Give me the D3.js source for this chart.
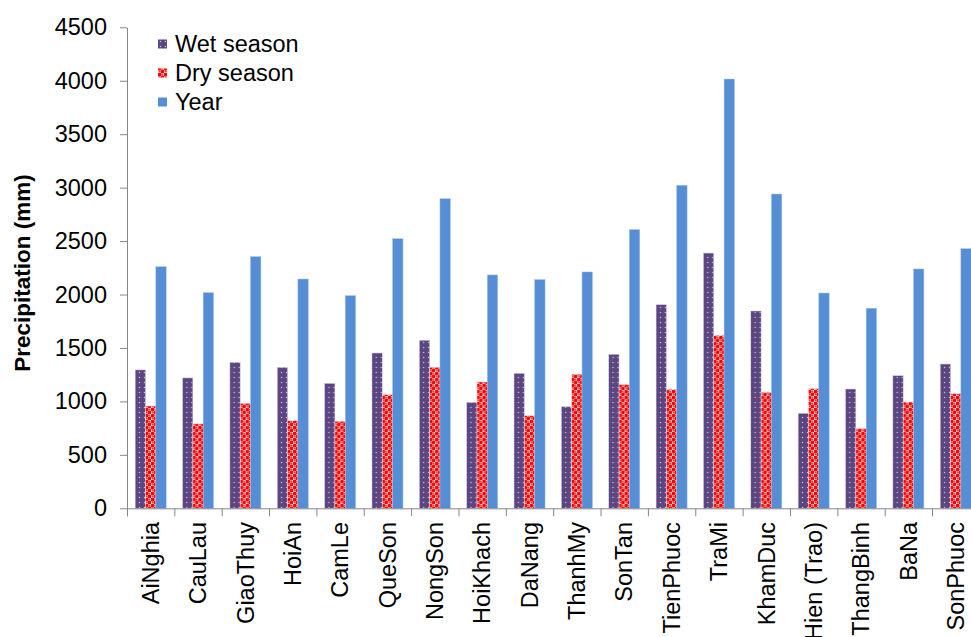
<!DOCTYPE html>
<html>
<head>
<meta charset="utf-8">
<script src="https://cdn.jsdelivr.net/npm/d3@7"></script>
<style>
  html, body { margin: 0; padding: 0; background: #fff; }
  svg { display: block; overflow: hidden; font-family: "Liberation Sans", Arial, sans-serif; }
</style>
</head>
<body>
<svg id="chart" width="971" height="637"></svg>
<script>
// Stations along the basin
const stations = ["AiNghia", "CauLau", "GiaoThuy", "HoiAn", "CamLe", "QueSon", "NongSon",
  "HoiKhach", "DaNang", "ThanhMy", "SonTan", "TienPhuoc", "TraMi", "KhamDuc",
  "Hien (Trao)", "ThangBinh", "BaNa", "SonPhuoc"];

// Mean precipitation (mm)
const wetSeason = [1295, 1220, 1366, 1319, 1169, 1453, 1572, 992, 1263, 951, 1441, 1905, 2388, 1846, 889, 1116, 1241, 1350];
const drySeason = [957, 790, 982, 819, 814, 1063, 1319, 1182, 866, 1254, 1157, 1113, 1618, 1085, 1119, 745, 994, 1072];
const yearTotal = [2260, 2017, 2354, 2145, 1989, 2522, 2896, 2183, 2139, 2211, 2607, 3022, 4016, 2940, 2014, 1871, 2239, 2429];

const seriesNames = ["Wet season", "Dry season", "Year"];
const yTicks = [0, 500, 1000, 1500, 2000, 2500, 3000, 3500, 4000, 4500];

const FONT = 23.5;

const svg = d3.select("#chart");
const defs = svg.append("defs");

// Wet season: dark purple with a grid of small light dots
const pWet = defs.append("pattern").attr("id", "pat-wet")
  .attr("patternUnits", "userSpaceOnUse").attr("width", 5).attr("height", 5);
pWet.append("rect").attr("width", 5).attr("height", 5).attr("fill", "#5c4681");
pWet.append("circle").attr("cx", 2.5).attr("cy", 2.5).attr("r", 0.75).attr("fill", "#c9c0da");

// Dry season: red with white checker of small openings
const pDry = defs.append("pattern").attr("id", "pat-dry")
  .attr("patternUnits", "userSpaceOnUse").attr("width", 6).attr("height", 6);
pDry.append("rect").attr("width", 6).attr("height", 6).attr("fill", "#ffffff");
pDry.append("circle").attr("cx", 1.5).attr("cy", 1.5).attr("r", 2.1).attr("fill", "#ff0000");
pDry.append("circle").attr("cx", 4.5).attr("cy", 4.5).attr("r", 2.1).attr("fill", "#ff0000");
pDry.append("circle").attr("cx", 4.5).attr("cy", 1.5).attr("r", 0.9).attr("fill", "#ff2a2a");
pDry.append("circle").attr("cx", 1.5).attr("cy", 4.5).attr("r", 0.9).attr("fill", "#ff2a2a");

const fills = { "Wet season": "url(#pat-wet)", "Dry season": "url(#pat-dry)", "Year": "#558ed5" };

const y0 = 508.3, yTop = 27.3, xLeft = 127, xRight = 979.4;

const x = d3.scaleBand().domain(stations).range([xLeft, xRight]).paddingInner(0).paddingOuter(0);
const xSub = d3.scaleBand().domain(seriesNames).range([0, x.bandwidth()]).paddingInner(0).paddingOuter(0.79);
const y = d3.scaleLinear().domain([0, 4500]).range([y0, yTop]);

const rows = stations.map((s, i) => ({
  station: s,
  values: [
    { key: "Wet season", v: wetSeason[i] },
    { key: "Dry season", v: drySeason[i] },
    { key: "Year", v: yearTotal[i] }
  ]
}));

// Bars
const groups = svg.append("g").selectAll("g").data(rows).join("g")
  .attr("transform", d => `translate(${x(d.station)},0)`);
groups.selectAll("rect").data(d => d.values).join("rect")
  .attr("x", d => xSub(d.key))
  .attr("width", xSub.bandwidth())
  .attr("y", d => y(d.v))
  .attr("height", d => y0 - y(d.v))
  .attr("fill", d => fills[d.key])
  .attr("stroke", d => d.key === "Year" ? "#9dbbe6" : "#d9d2e6")
  .attr("stroke-width", 0.5);

// Y axis
const yAxis = svg.append("g").attr("transform", `translate(${xLeft},0)`)
  .call(d3.axisLeft(y).tickValues(yTicks).tickFormat(d3.format("d"))
    .tickSize(7).tickPadding(13).tickSizeOuter(0));
yAxis.select(".domain").attr("stroke", "#868686");
yAxis.selectAll(".tick line").attr("stroke", "#868686");
yAxis.selectAll(".tick text").attr("font-size", FONT).attr("fill", "#000")
  .attr("font-family", "'Liberation Sans', Arial, sans-serif");

// X axis: baseline with ticks at category boundaries
const xEdges = d3.scaleLinear().domain([0, stations.length]).range([xLeft, xRight]);
const xAxisTicks = svg.append("g").attr("transform", `translate(0,${y0})`)
  .call(d3.axisBottom(xEdges).tickValues(d3.range(0, stations.length + 1)).tickSize(8).tickFormat(""));
xAxisTicks.select(".domain").attr("stroke", "#868686");
xAxisTicks.selectAll(".tick line").attr("stroke", "#868686");

// Category labels, rotated
svg.append("g").selectAll("text").data(stations).join("text")
  .attr("transform", d => `translate(${x(d) + x.bandwidth() / 2},522) rotate(-90)`)
  .attr("text-anchor", "end")
  .attr("dy", "0.35em")
  .attr("font-size", FONT)
  .attr("fill", "#000")
  .text(d => d);

// Y axis title
svg.append("text")
  .attr("transform", "translate(22,273) rotate(-90)")
  .attr("text-anchor", "middle")
  .attr("dy", "0.35em")
  .attr("font-size", 22.5)
  .attr("font-weight", "bold")
  .attr("fill", "#000")
  .text("Precipitation (mm)");

// Legend
const legend = svg.append("g").attr("transform", "translate(158,44)");
const li = legend.selectAll("g").data(seriesNames).join("g")
  .attr("transform", (d, i) => `translate(0,${i * 29})`);
li.append("rect").attr("x", 0).attr("y", -4.5).attr("width", 9).attr("height", 9)
  .attr("fill", d => fills[d]);
li.append("text").attr("x", 17).attr("dy", "0.35em").attr("font-size", FONT).attr("fill", "#000")
  .text(d => d);
</script>
</body>
</html>
